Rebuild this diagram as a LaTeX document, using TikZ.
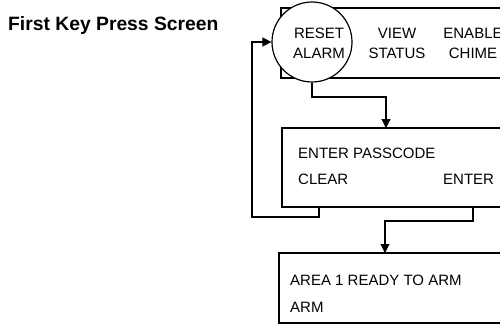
\documentclass[tikz,border=0pt]{standalone}
\usepackage{fontspec}
\setmainfont{Liberation Sans}
\usetikzlibrary{arrows.meta}
\begin{document}
\begin{tikzpicture}[x=1pt,y=-1pt,
  box/.style={draw,line width=1.2pt},
  lbl/.style={inner sep=0pt,font=\fontsize{15}{17}\selectfont},
  conn/.style={line width=1.1pt},
  arr/.style={conn,-{Triangle[length=9pt,width=9pt]}}]
\useasboundingbox (0,0) rectangle (500,324);
\clip (0,0) rectangle (500,324);
% title
\node[anchor=base west,inner sep=0pt,font=\bfseries\fontsize{19.3}{21}\selectfont] (title) at (8,30) {First Key Press Screen};
% boxes
\draw[box] (281,8) rectangle (520,78);
\node[box,circle,fill=white,minimum size=80pt,inner sep=0pt] (reset) at (312,42) {};
\draw[box] (282,128) rectangle (520,207);
\draw[box] (279,253) rectangle (520,323);
\coordinate (p2bl) at (319,207);
\coordinate (p2br) at (473,207);
\coordinate (p2t) at (386,128);
\coordinate (p3t) at (385,253);
% texts
\node[lbl,anchor=base] (t1) at (319,38) {RESET};
\node[lbl,anchor=base] (t2) at (319,58) {ALARM};
\node[lbl,anchor=base] (t3) at (397,38) {VIEW};
\node[lbl,anchor=base] (t4) at (397,58) {STATUS};
\node[lbl,anchor=base] (t5) at (473,38) {ENABLE};
\node[lbl,anchor=base] (t6) at (473,58) {CHIME};
\node[lbl,anchor=base west] (t7) at (298,158) {ENTER PASSCODE};
\node[lbl,anchor=base west] (t8) at (298,184) {CLEAR};
\node[lbl,anchor=base west] (t9) at (443,184) {ENTER};
\node[lbl,anchor=base west] (t10) at (290,285) {AREA 1 READY TO ARM};
\node[lbl,anchor=base west] (t11) at (290,312) {ARM};
% connectors
\draw[arr] (reset.south) -- (312,97) -| (p2t);
\draw[arr] (p2bl) -- (319,217) -- (252,217) -- (252,42) -- (reset.west);
\draw[arr] (p2br) -- (473,221) -| (p3t);
\end{tikzpicture}
\end{document}
